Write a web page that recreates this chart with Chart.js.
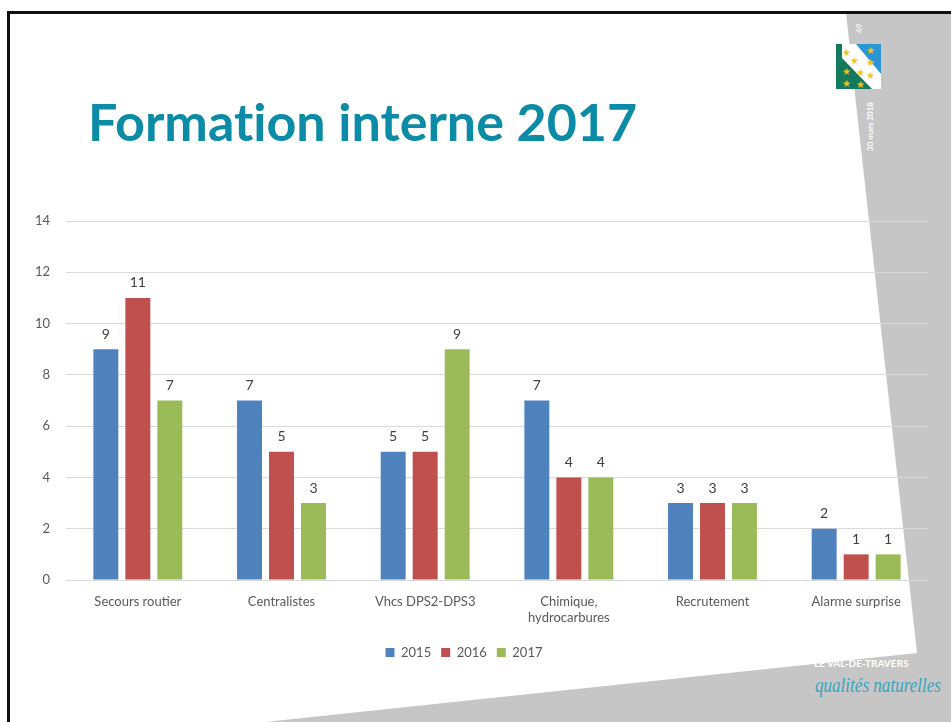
<!DOCTYPE html>
<html>
<head>
    <title>Formation interne 2017</title>
    <script src="https://cdn.jsdelivr.net/npm/chart.js"></script>
    <style>
        body { margin: 0; background: #ffffff; }
        .slide { position: relative; width: 951px; height: 722px; overflow: hidden; background: #ffffff; }
        .slide svg, .slide canvas { position: absolute; left: 0; top: 0; }
        .title {
            position: absolute; left: 88px; top: 90px; margin: 0;
            font-family: Lato, "Open Sans", sans-serif; font-weight: bold;
            font-size: 52px; color: #0b8ba6; white-space: nowrap;
            font-variant-ligatures: none; line-height: 1.2;
        }
    </style>
</head>
<body>
<div class="slide">
    <svg width="951" height="722">
        <!-- grey band on the right and bottom -->
        <polygon points="846,13 951,13 951,722 265,722 917,653" fill="#c6c6c6"/>
        <!-- frame lines -->
        <rect x="7" y="11" width="944" height="3" fill="#111"/>
        <rect x="7" y="11" width="3" height="711" fill="#111"/>
        <!-- little logo -->
        <rect x="836" y="44" width="45" height="45" fill="#2b96d3"/>
        <polygon points="836,44 846,44 881,80 881,89 836,89" fill="#137a5e"/>
        <polygon points="842,44 856,44 881,74 881,89 872,89 842,58" fill="#ffffff"/>
        <g fill="#f1c21b" font-size="10" font-family="DejaVu Sans">
            <text x="842" y="56">★</text><text x="866" y="54">★</text>
            <text x="850" y="64">★</text><text x="866" y="66">★</text>
            <text x="842" y="75">★</text><text x="856" y="76">★</text>
            <text x="866" y="79">★</text><text x="842" y="87">★</text>
            <text x="856" y="88">★</text>
        </g>
        <text transform="translate(862,33) rotate(-90)" fill="#ffffff" font-size="8" font-family="Lato">49</text>
        <text transform="translate(873,151) rotate(-90)" fill="#ffffff" font-size="8" font-weight="bold" font-family="Lato">30 mars 2018</text>
        <!-- bottom right signature -->
        <text x="814" y="667" fill="#ffffff" font-size="10" font-weight="bold" font-family="Lato">LE VAL-DE-TRAVERS</text>
        <text x="815" y="692" fill="#3aa3bd" font-size="22" font-style="italic" font-family="Liberation Serif"
              textLength="126" lengthAdjust="spacingAndGlyphs">qualités naturelles</text>
    </svg>
    <h1 class="title">Formation interne 2017</h1>
    <canvas id="formationChart" width="951" height="722"></canvas>
</div>

<script>
    const categories = ['Secours routier', 'Centralistes', 'Vhcs DPS2-DPS3', ['Chimique,', 'hydrocarbures'], 'Recrutement', 'Alarme surprise'];
    const years = ['2015', '2016', '2017'];
    const values2015 = [9, 7, 5, 7, 3, 2];
    const values2016 = [11, 5, 5, 4, 3, 1];
    const values2017 = [7, 3, 9, 4, 3, 1];
    const yTicks = [0, 2, 4, 6, 8, 10, 12, 14];
    const colors = ['#4f81bd', '#c0504d', '#9bbb59'];

    const font = 'Lato, "Open Sans", sans-serif';

    // values written above each bar
    const barValues = {
        id: 'barValues',
        afterDatasetsDraw(chart) {
            const ctx = chart.ctx;
            ctx.save();
            ctx.font = '14px ' + font;
            ctx.fillStyle = '#404040';
            ctx.textAlign = 'center';
            ctx.textBaseline = 'middle';
            chart.data.datasets.forEach((ds, i) => {
                chart.getDatasetMeta(i).data.forEach((bar, j) => {
                    ctx.fillText(ds.data[j], bar.x, bar.y - 15);
                });
            });
            ctx.restore();
        }
    };

    const ctx = document.getElementById('formationChart').getContext('2d');
    const chart = new Chart(ctx, {
        type: 'bar',
        data: {
            labels: categories,
            datasets: [
                { label: years[0], data: values2015, backgroundColor: colors[0] },
                { label: years[1], data: values2016, backgroundColor: colors[1] },
                { label: years[2], data: values2017, backgroundColor: colors[2] }
            ]
        },
        options: {
            responsive: false,
            animation: false,
            categoryPercentage: 0.668,
            barPercentage: 0.78,
            layout: { padding: { top: 221, right: 23, left: 0, bottom: 53 } },
            scales: {
                y: {
                    min: 0,
                    max: 14,
                    afterFit(scale) { scale.width = 66; },
                    afterBuildTicks(scale) { scale.ticks = yTicks.map(v => ({ value: v })); },
                    border: { display: false },
                    grid: { color: '#d9d9d9', drawTicks: false },
                    ticks: { color: '#595959', font: { family: font, size: 13 }, padding: 16 }
                },
                x: {
                    afterFit(scale) { scale.height = 56; },
                    border: { display: false },
                    grid: { display: false },
                    ticks: { color: '#595959', font: { family: font, size: 13 }, padding: 6, maxRotation: 0, autoSkip: false }
                }
            },
            plugins: {
                tooltip: { enabled: false },
                legend: {
                    position: 'bottom',
                    labels: {
                        color: '#595959',
                        font: { family: font, size: 13 },
                        boxWidth: 9,
                        boxHeight: 9,
                        padding: 10
                    }
                }
            }
        },
        plugins: [barValues]
    });
</script>
</body>
</html>
